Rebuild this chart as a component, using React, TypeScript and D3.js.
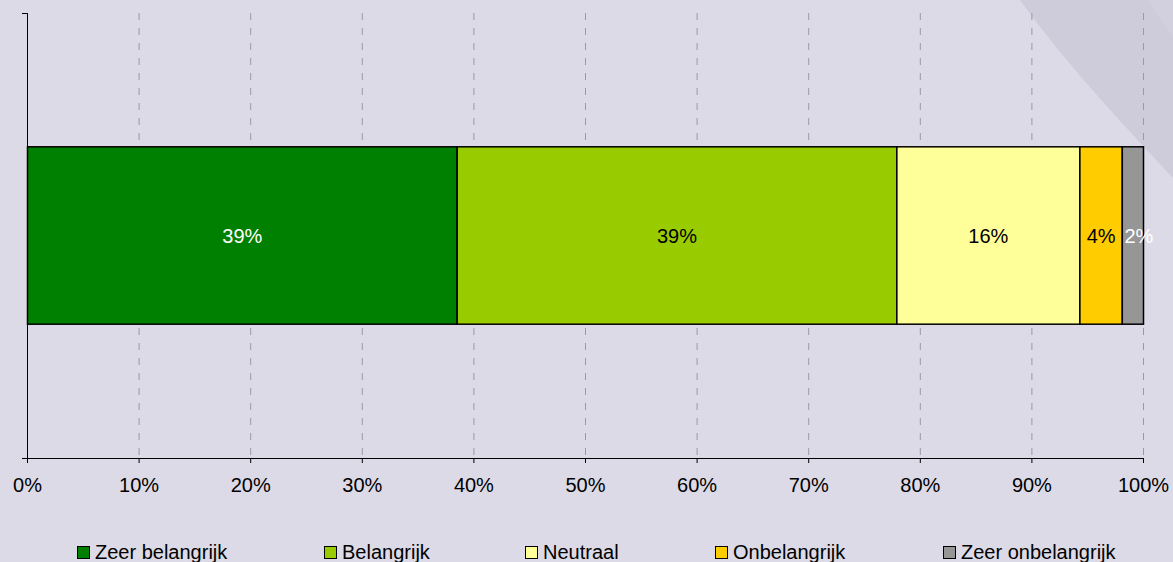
import React from "react";
import * as d3 from "d3";

const categories = ["Zeer belangrijk", "Belangrijk", "Neutraal", "Onbelangrijk", "Zeer onbelangrijk"];
const values = [38.5, 39.4, 16.4, 3.8, 1.9];
const labels = ["39%", "39%", "16%", "4%", "2%"];
const colors = ["#008000", "#99CC00", "#FFFF99", "#FFCC00", "#969696"];
const labelColors = ["#FFFFFF", "#000000", "#000000", "#000000", "#FFFFFF"];
const tickValues = [0, 10, 20, 30, 40, 50, 60, 70, 80, 90, 100];
const legendX = [77, 324, 525, 715, 943];

const W = 1173;
const H = 562;
const FONT = "Arial, 'Liberation Sans', sans-serif";

export default function App() {
  const x = d3.scaleLinear().domain([0, 100]).range([27.5, 1143.5]);
  const y = d3.scaleBand<string>().domain(["row"]).range([13, 458]).paddingInner(0.43).paddingOuter(0.43);
  const by = y("row") as number;
  const bh = y.bandwidth();
  const starts = d3.cumsum([0, ...values.slice(0, -1)]);
  const top = 13;
  const bottom = 458;

  return (
    <svg width={W} height={H} style={{ position: "absolute", left: 0, top: 0, display: "block" }}>
      <rect x={0} y={0} width={W} height={H} fill="#DCDAE6" />
      {/* decorative band top right */}
      <path d="M1020,0 C1060,55 1100,100 1173,178 L1173,0 Z" fill="#CECBDA" />
      <path d="M1148,0 C1155,12 1163,24 1173,36 L1173,0 Z" fill="#D2D0DE" />
      {/* gridlines */}
      {tickValues.slice(1).map((t) => (
        <line key={"g" + t} x1={x(t)} x2={x(t)} y1={top} y2={bottom} stroke="#9A9AA2" strokeWidth={1} strokeDasharray="7,8" />
      ))}
      {/* bars */}
      {values.map((v, i) => (
        <rect key={"b" + i} x={x(starts[i])} y={by} width={x(starts[i] + v) - x(starts[i])} height={bh}
          fill={colors[i]} stroke="#000" strokeWidth={1.5} />
      ))}
      {values.map((v, i) => (
        <text key={"l" + i} x={x(starts[i] + v / 2) + (i === values.length - 1 ? 6 : 0)} y={by + bh / 2 + 7} textAnchor="middle"
          fontFamily={FONT} fontSize={20} fill={labelColors[i]}>{labels[i]}</text>
      ))}
      {/* axes */}
      <line x1={27.5} x2={27.5} y1={top} y2={bottom} stroke="#000" strokeWidth={1} />
      <line x1={22} x2={27.5} y1={top + 0.5} y2={top + 0.5} stroke="#000" strokeWidth={1} />
      <line x1={22} x2={1143.5} y1={bottom + 0.5} y2={bottom + 0.5} stroke="#000" strokeWidth={1} />
      {tickValues.map((t) => (
        <g key={"t" + t}>
          <line x1={x(t)} x2={x(t)} y1={bottom} y2={bottom + 5} stroke="#000" strokeWidth={1} />
          <text x={x(t)} y={492} textAnchor="middle" fontFamily={FONT} fontSize={20} fill="#000">{t + "%"}</text>
        </g>
      ))}
      {/* legend */}
      {categories.map((c, i) => (
        <g key={"lg" + i}>
          <rect x={legendX[i] + 0.5} y={546.5} width={12} height={12} fill={colors[i]} stroke="#000" strokeWidth={1} />
          <text x={legendX[i] + 18} y={559} fontFamily={FONT} fontSize={20} fill="#000">{c}</text>
        </g>
      ))}
    </svg>
  );
}
